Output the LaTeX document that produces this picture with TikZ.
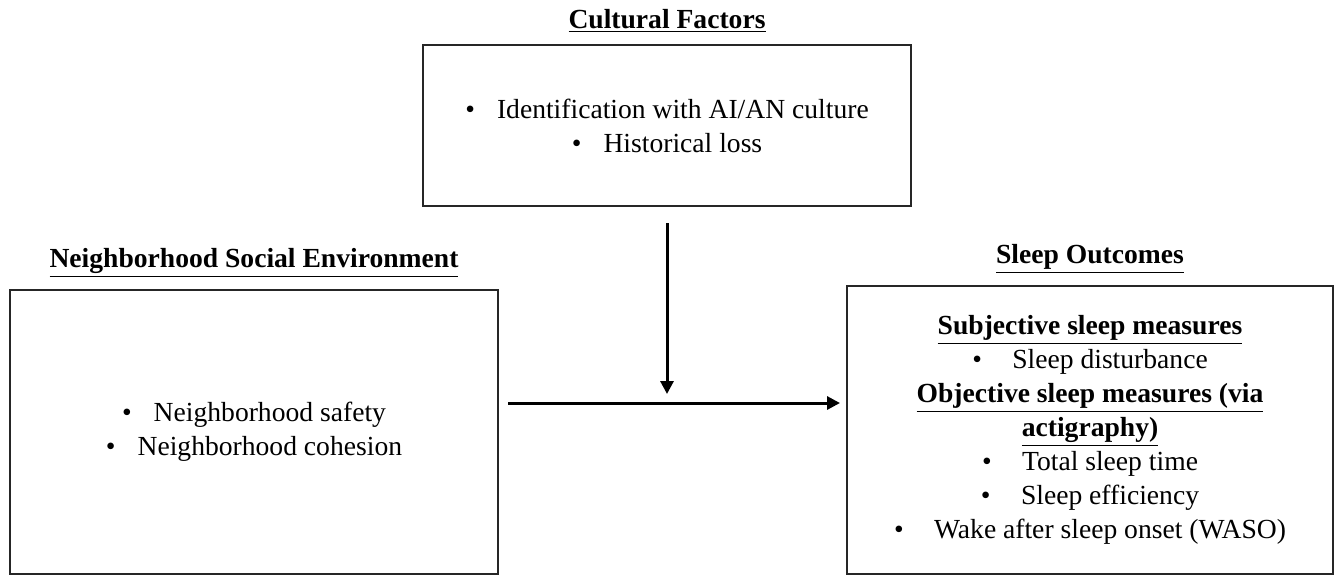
\documentclass[tikz,border=0pt]{standalone}
\usepackage{fontspec}
\setmainfont{Liberation Serif}
\usetikzlibrary{arrows.meta,positioning}
\tikzset{
  %% Framed boxes
  factorbox/.style={
    rectangle, draw=black!85, line width=1pt,
    align=center, inner sep=0pt, minimum width=244pt},
  %% Underlined box titles
  titlenode/.style={
    inner sep=0pt, font=\fontsize{13.8}{17}\selectfont\bfseries},
  %% Arrows
  arrow/.style={-{Triangle[length=6.5pt,width=6.5pt]}, line width=1.5pt, black},
}
\newcommand{\bitem}[1][0.8em]{\textbullet\hspace{#1}}

\begin{document}
\begin{tikzpicture}[x=0.5pt, y=-0.5pt, node distance=5.5pt,
                    every node/.style={font=\fontsize{13.8}{17}\selectfont}]
  \useasboundingbox (0,0) rectangle (1342,574);

  %% Cultural factors
  \node[factorbox, minimum height=80.5pt] (cult) at (667,125.5)
    {\bitem Identification with AI/AN culture\\ \bitem Historical loss};
  \node[titlenode, above=of cult] (cultT) {\underline{Cultural Factors}};

  %% Neighborhood social environment
  \node[factorbox, minimum height=142pt, below=41pt of cult, xshift=-206.5pt] (nse)
    {\bitem Neighborhood safety\\ \bitem Neighborhood cohesion};
  \node[titlenode, above=of nse] (nseT) {\underline{Neighborhood Social Environment}};

  %% Sleep outcomes
  \node[factorbox, minimum width=243pt, minimum height=144pt,
        below=39pt of cult, xshift=211.5pt] (sleep)
    {\underline{\textbf{Subjective sleep measures}}\\
     \bitem[1.1em]Sleep disturbance\\
     \underline{\textbf{Objective sleep measures (via}}\\
     \underline{\textbf{actigraphy)}}\\
     \bitem[1.1em]Total sleep time\\
     \bitem[1.1em]Sleep efficiency\\
     \bitem[1.1em]Wake after sleep onset (WASO)};
  \node[titlenode, above=of sleep] (sleepT) {\underline{Sleep Outcomes}};

  %% Paths
  \draw[arrow] ([yshift=-8pt]cult.south) -- ([yshift=-93.5pt]cult.south);
  \draw[arrow] ([xshift=4.5pt,yshift=14.5pt]nse.east) -- ([xshift=-3pt,yshift=13.5pt]sleep.west);

\end{tikzpicture}
\end{document}
